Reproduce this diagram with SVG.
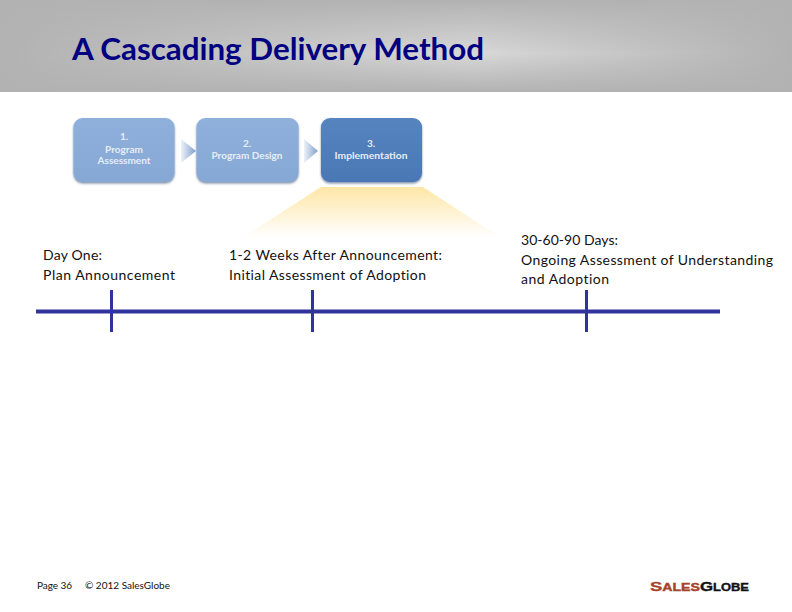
<svg xmlns="http://www.w3.org/2000/svg" width="792" height="612" viewBox="0 0 792 612">
<style>
.lab{font-family:Lato,"Open Sans",sans-serif;font-size:14px;fill:#111;font-variant-ligatures:none}
.box{font-family:Lato,"Open Sans",sans-serif;font-size:10px;font-weight:700;fill:#e6edf7;text-anchor:middle}
.foot{font-family:Lato,"Open Sans",sans-serif;font-size:10px;fill:#111}
.rule{stroke:#30339c;fill:none}
.logo{font-family:"Liberation Sans",sans-serif;font-weight:700;stroke-width:.35}
</style>
<defs>
<linearGradient id="hdrV" x1="0" y1="0" x2="0" y2="1"><stop offset="0" stop-color="#b2b2b2"/><stop offset=".58" stop-color="#b2b2b2" stop-opacity="0"/><stop offset="1" stop-color="#b2b2b2"/></linearGradient>
<linearGradient id="hdrH" x1="0" y1="0" x2="1" y2="0"><stop offset="0" stop-color="#b2b2b2"/><stop offset=".6" stop-color="#d8d8d8"/><stop offset="1" stop-color="#b2b2b2"/></linearGradient>
<linearGradient id="light" x1="0" y1="0" x2="0" y2="1"><stop offset="0" stop-color="#8fb0db"/><stop offset="1" stop-color="#86a8d4"/></linearGradient>
<linearGradient id="dark" x1="0" y1="0" x2="0" y2="1"><stop offset="0" stop-color="#5584bf"/><stop offset="1" stop-color="#4a78b4"/></linearGradient>
<linearGradient id="arr" x1="0" y1="0" x2="1" y2="0"><stop offset="0" stop-color="#eef2f8"/><stop offset="1" stop-color="#7f9fcb"/></linearGradient>
<linearGradient id="fan" x1="0" y1="0" x2="0" y2="1"><stop offset="0" stop-color="#fde6a6"/><stop offset="1" stop-color="#ffffff"/></linearGradient>
<filter id="sh" x="-10%" y="-10%" width="120%" height="125%"><feDropShadow dx="0" dy="1.500" stdDeviation="1.200" flood-color="#5f7594" flood-opacity=".8"/></filter>
</defs>
<rect width="792" height="612" fill="#fff"/>
<g id="header"><rect width="792" height="92" fill="url(#hdrH)"/><rect width="792" height="92" fill="url(#hdrV)"/>
<text x="72" y="60" font-family="Lato,'Open Sans',sans-serif" font-size="29.5" font-weight="700" fill="#000080" textLength="412" lengthAdjust="spacingAndGlyphs">A Cascading Delivery Method</text></g>
<path id="fan-shape" d="M321 187H423L500 237H243Z" fill="url(#fan)"/>
<g id="step-1"><rect x="73.500" y="118" width="101" height="64" rx="9" fill="url(#light)" filter="url(#sh)"/>
<text class="box" x="124" y="140">1.</text><text class="box" x="124" y="153">Program</text><text class="box" x="124" y="164">Assessment</text></g>
<g id="step-2"><rect x="196.500" y="118" width="102" height="64" rx="9" fill="url(#light)" filter="url(#sh)"/>
<text class="box" x="247" y="147">2.</text><text class="box" x="247" y="159" textLength="71" lengthAdjust="spacingAndGlyphs">Program Design</text></g>
<g id="step-3"><rect x="321" y="118" width="101" height="64" rx="9" fill="url(#dark)" filter="url(#sh)"/>
<text class="box" x="371" y="147">3.</text><text class="box" x="371" y="159" textLength="73" lengthAdjust="spacingAndGlyphs">Implementation</text></g>
<g id="connectors">
<path d="M181 139L196 151L181 163Z" fill="url(#arr)"/>
<path d="M304 139L318 151L304 163Z" fill="url(#arr)"/>
<path class="rule" stroke-width="4" d="M36 311.500H720"/>
<path class="rule" stroke-width="3" d="M111.500 290V332M312.500 290V332M586.500 290V332"/>
</g>
<g id="label-1"><text class="lab" x="43" y="260" textLength="59">Day One:</text><text class="lab" x="43" y="280" textLength="132">Plan Announcement</text></g>
<g id="label-2"><text class="lab" x="229" y="260" textLength="213">1-2 Weeks After Announcement:</text><text class="lab" x="229" y="280" textLength="197">Initial Assessment of Adoption</text></g>
<g id="label-3"><text class="lab" x="521" y="245" textLength="97">30-60-90 Days:</text><text class="lab" x="521" y="265" textLength="252">Ongoing Assessment of Understanding</text><text class="lab" x="521" y="284" textLength="88">and Adoption</text></g>
<g id="footer"><text class="foot" x="37" y="589" textLength="35">Page 36</text><text class="foot" x="85" y="589" textLength="85">© 2012 SalesGlobe</text></g>
<g id="logo"><text class="logo" x="650" y="591" fill="#a5432a" stroke="#a5432a" textLength="50" lengthAdjust="spacingAndGlyphs"><tspan font-size="13">S</tspan><tspan font-size="10">ALES</tspan></text>
<text class="logo" x="700" y="591" fill="#111" stroke="#111" textLength="49" lengthAdjust="spacingAndGlyphs"><tspan font-size="13">G</tspan><tspan font-size="10">LOBE</tspan></text></g>
</svg>
